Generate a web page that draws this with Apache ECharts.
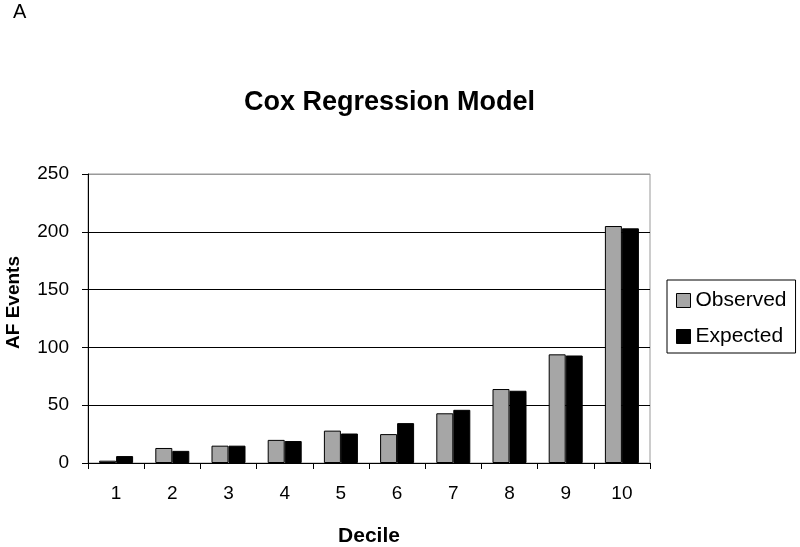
<!DOCTYPE html>
<html>
<head>
<meta charset="utf-8">
<script src="https://cdn.jsdelivr.net/npm/echarts@6/dist/echarts.min.js"></script>
<style>
html,body{margin:0;padding:0;background:#fff;}
#chart{width:800px;height:547px;}
</style>
</head>
<body>
<div id="chart"></div>
<script>
var categories = ['1','2','3','4','5','6','7','8','9','10'];
var observed = [2, 13, 15, 20, 28, 25, 43, 64, 94, 205];
var expected = [6, 10.5, 15, 19, 25.5, 34.5, 46, 62.5, 93, 203];
var seriesNames = ['Observed', 'Expected'];
var titleText = 'Cox Regression Model';
var panelLabel = 'A';
var xName = 'Decile';
var yName = 'AF Events';

var FONT = '"Liberation Sans", Arial, sans-serif';
var chart = echarts.init(document.getElementById('chart'), null, {renderer: 'canvas'});
chart.setOption({
  animation: false,
  backgroundColor: '#ffffff',
  textStyle: {fontFamily: FONT, color: '#000'},
  graphic: [
    {type: 'text', left: 13, top: 2, style: {text: panelLabel, font: '20px ' + FONT, fill: '#000'}},
    {type: 'text', x: 389.5, y: 89, style: {text: titleText, font: 'bold 27px ' + FONT, fill: '#000', align: 'center', verticalAlign: 'top'}},
    {type: 'text', x: 13.5, y: 302.5, rotation: Math.PI / 2, style: {text: yName, font: 'bold 19px ' + FONT, fill: '#000', align: 'center', verticalAlign: 'middle'}}
  ],
  grid: {left: 88, right: 150, top: 174, bottom: 84, show: true, borderColor: '#999999', borderWidth: 1, backgroundColor: 'transparent', outerBoundsMode: 'none', containLabel: false},
  legend: {
    orient: 'vertical', left: 667, top: 280,
    data: seriesNames,
    icon: 'rect', itemWidth: 14, itemHeight: 14, itemGap: 15, itemTextGap: 7,
    padding: [10, 9, 6, 9],
    borderColor: '#000', borderWidth: 1,
    itemStyle: {borderColor: '#000', borderWidth: 1},
    textStyle: {fontFamily: FONT, fontSize: 21, color: '#000'}
  },
  xAxis: {
    type: 'category', data: categories,
    name: xName, nameLocation: 'middle', nameGap: 63,
    nameTextStyle: {fontFamily: FONT, fontSize: 21, fontWeight: 'bold', color: '#000'},
    axisLine: {lineStyle: {color: '#000', width: 1}},
    axisTick: {show: true, length: 6, lineStyle: {color: '#000'}},
    axisLabel: {fontFamily: FONT, fontSize: 19, color: '#000', margin: 21}
  },
  yAxis: {
    type: 'value', min: 0, max: 250, interval: 50,
    axisLine: {show: true, lineStyle: {color: '#000', width: 1}},
    axisTick: {show: true, length: 6, lineStyle: {color: '#000'}},
    axisLabel: {fontFamily: FONT, fontSize: 19, color: '#000', margin: 19},
    splitLine: {show: true, lineStyle: {color: ['#000','#000','#000','#000','#000','#999999'], width: 1}}
  },
  series: [
    {name: seriesNames[0], type: 'bar', data: observed, barWidth: 17, barGap: '0%',
     itemStyle: {color: '#a6a6a6', borderColor: '#000', borderWidth: 1}},
    {name: seriesNames[1], type: 'bar', data: expected, barWidth: 17, barGap: '0%',
     itemStyle: {color: '#000000', borderColor: '#000', borderWidth: 1}}
  ]
});
</script>
</body>
</html>
